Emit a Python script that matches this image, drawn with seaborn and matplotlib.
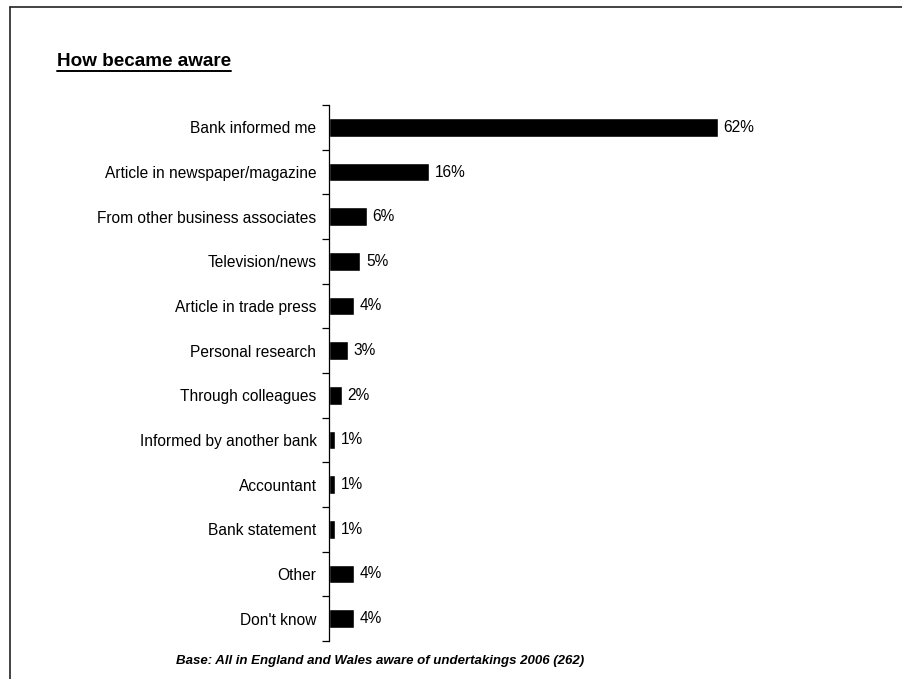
import matplotlib
matplotlib.use("Agg")
import matplotlib.pyplot as plt
from matplotlib.lines import Line2D
import seaborn as sns
import pandas as pd

categories = [
    "Bank informed me",
    "Article in newspaper/magazine",
    "From other business associates",
    "Television/news",
    "Article in trade press",
    "Personal research",
    "Through colleagues",
    "Informed by another bank",
    "Accountant",
    "Bank statement",
    "Other",
    "Don't know",
]
values = [62, 16, 6, 5, 4, 3, 2, 1, 1, 1, 4, 4]

title = "How became aware"
footnote = "Base: All in England and Wales aware of undertakings 2006 (262)"

sns.set_style("white")
plt.rcParams["font.family"] = ["Liberation Sans", "DejaVu Sans"]
plt.rcParams["text.color"] = "black"
plt.rcParams["ytick.color"] = "black"
plt.rcParams["ytick.labelcolor"] = "black"

W, H = 902, 679
fig = plt.figure(figsize=(W / 100, H / 100), dpi=100)
ax = fig.add_axes([329 / W, 1 - 641 / H, 564.7 / W, 536 / H])

df = pd.DataFrame({"source": categories, "pct": values})
sns.barplot(data=df, x="pct", y="source", orient="h", color="black",
            width=0.42, saturation=1, ax=ax)
ax.set_xlim(0, 90)
ax.set_xlabel("")
ax.set_ylabel("")

for c in ax.containers:
    ax.bar_label(c, labels=[f"{v}%" for v in values], padding=4,
                 fontsize=11.2, color="black")

# axis styling: only the left spine, ticks between categories
for side in ("top", "right", "bottom"):
    ax.spines[side].set_visible(False)
ax.spines["left"].set_color("black")
ax.spines["left"].set_linewidth(0.9)
ax.set_xticks([])
ax.tick_params(axis="y", which="major", left=True, length=0, pad=9,
               labelsize=11.2, labelcolor="black")
ax.set_yticks([i - 0.5 for i in range(len(categories) + 1)], minor=True)
ax.tick_params(axis="y", which="minor", left=True, length=5, width=0.9,
               direction="out", color="black")
ax.set_ylim(len(categories) - 0.5, -0.5)

# page frame lines (top and left)
fig.add_artist(Line2D([10 / W, 1.0], [1 - 7 / H, 1 - 7 / H], color="#222222",
                      lw=1.2, transform=fig.transFigure))
fig.add_artist(Line2D([10 / W, 10 / W], [0, 1 - 7 / H], color="#222222",
                      lw=1.2, transform=fig.transFigure))

# underlined heading
t = fig.text(57 / W, 1 - 61 / H, title, fontsize=13.6, fontweight="bold",
             va="center", ha="left", color="black")
fig.canvas.draw()
bb = t.get_window_extent(renderer=fig.canvas.get_renderer())
uy = (bb.y0 - 1.0) / H
fig.add_artist(Line2D([bb.x0 / W, bb.x1 / W], [uy, uy], color="black", lw=1.4,
                      transform=fig.transFigure))

fig.text(380 / W, 1 - 661 / H, footnote, fontsize=9.5, fontweight="bold",
         fontstyle="italic", ha="center", va="center", color="black")

fig.savefig("out.png", dpi=100)
